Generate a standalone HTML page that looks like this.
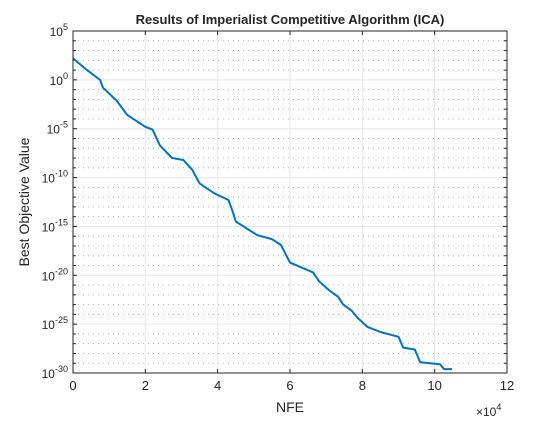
<!DOCTYPE html>
<html><head><meta charset="utf-8"><style>
body{margin:0;background:#fff}
svg text{font-family:"Liberation Sans",Arial,sans-serif;fill:#262626}
</style></head><body>
<svg id="chart" width="560" height="420" xmlns="http://www.w3.org/2000/svg">
<rect width="560" height="420" fill="#fff"/>
<g id="grid"></g><g id="ticks"></g>
<path id="line" fill="none" stroke="#0072bd" stroke-width="2" stroke-linejoin="round"/>
<rect x="73" y="31" width="434" height="342" fill="none" stroke="#262626" stroke-width="1"/>
<text x="290" y="24" font-size="13" font-weight="bold" text-anchor="middle">Results of Imperialist Competitive Algorithm (ICA)</text>
<text x="290" y="412" font-size="14" text-anchor="middle">NFE</text>
<text transform="translate(29,202) rotate(-90)" font-size="14" text-anchor="middle">Best Objective Value</text>
<text x="476" y="416" font-size="12">×10<tspan dy="-6" font-size="9">4</tspan></text>
</svg>
<script>
const nfe=[0,0.39,0.75,0.83,1.2,1.5,2.0,2.2,2.4,2.74,3.05,3.3,3.5,3.9,4.3,4.4,4.5,5.1,5.5,5.75,6.0,6.64,6.8,7.07,7.33,7.47,7.7,7.88,8.15,8.5,9.0,9.13,9.45,9.6,10.15,10.26,10.48];
const logBest=[2.2,1.0,0,-0.8,-2.1,-3.6,-4.8,-5.1,-6.7,-8,-8.2,-9.2,-10.6,-11.6,-12.3,-13.3,-14.5,-15.9,-16.3,-16.9,-18.7,-19.7,-20.6,-21.5,-22.2,-23.0,-23.6,-24.4,-25.3,-25.8,-26.3,-27.4,-27.6,-28.9,-29.1,-29.6,-29.6];
const xTicks=[0,2,4,6,8,10,12];
const yTicks=[5,0,-5,-10,-15,-20,-25,-30];
const X0=73,X1=507,Y0=31,Y1=373;
const sx=v=>X0+(v/12)*(X1-X0);
const sy=v=>Y0+((5-v)/35)*(Y1-Y0);
const NS="http://www.w3.org/2000/svg";
const grid=document.getElementById('grid'),ticks=document.getElementById('ticks');
function mk(tag,attrs,parent){const e=document.createElementNS(NS,tag);for(const k in attrs)e.setAttribute(k,attrs[k]);parent.appendChild(e);return e;}
for(let d=-29;d<5;d++){if(d%5===0)continue;const y=sy(d);
const l=mk('line',{x1:X0,x2:X1,y1:y,y2:y,stroke:'#b4b4b4','stroke-width':1,'stroke-dasharray':'1,4'},grid);


mk('line',{x1:X0,x2:X0+3,y1:y,y2:y,stroke:'#262626'},ticks);mk('line',{x1:X1,x2:X1-3,y1:y,y2:y,stroke:'#262626'},ticks);}
yTicks.forEach(t=>{const y=sy(t);
const l=mk('line',{x1:X0,x2:X1,y1:y,y2:y,stroke:'#e6e6e6','stroke-width':1},grid);


mk('line',{x1:X0,x2:X0+4,y1:y,y2:y,stroke:'#262626'},ticks);mk('line',{x1:X1,x2:X1-4,y1:y,y2:y,stroke:'#262626'},ticks);
const tx=mk('text',{x:X0-5,y:y+5,'font-size':12,'text-anchor':'end'},ticks);


tx.innerHTML='10<tspan dy="-6" font-size="9">'+(t<0?'-'+(-t):t)+'</tspan>';});
xTicks.forEach(t=>{const x=sx(t);
const l=mk('line',{x1:x,x2:x,y1:Y0,y2:Y1,stroke:'#e6e6e6','stroke-width':1},grid);


mk('line',{x1:x,x2:x,y1:Y1,y2:Y1-4,stroke:'#262626'},ticks);mk('line',{x1:x,x2:x,y1:Y0,y2:Y0+4,stroke:'#262626'},ticks);
const tx=mk('text',{x:x,y:Y1+17,'font-size':13,'text-anchor':'middle'},ticks);


tx.textContent=t;});
document.getElementById('line').setAttribute('d',nfe.map((v,i)=>(i?'L':'M')+sx(v).toFixed(1)+','+sy(logBest[i]).toFixed(1)).join(''));
</script>
</body></html>
